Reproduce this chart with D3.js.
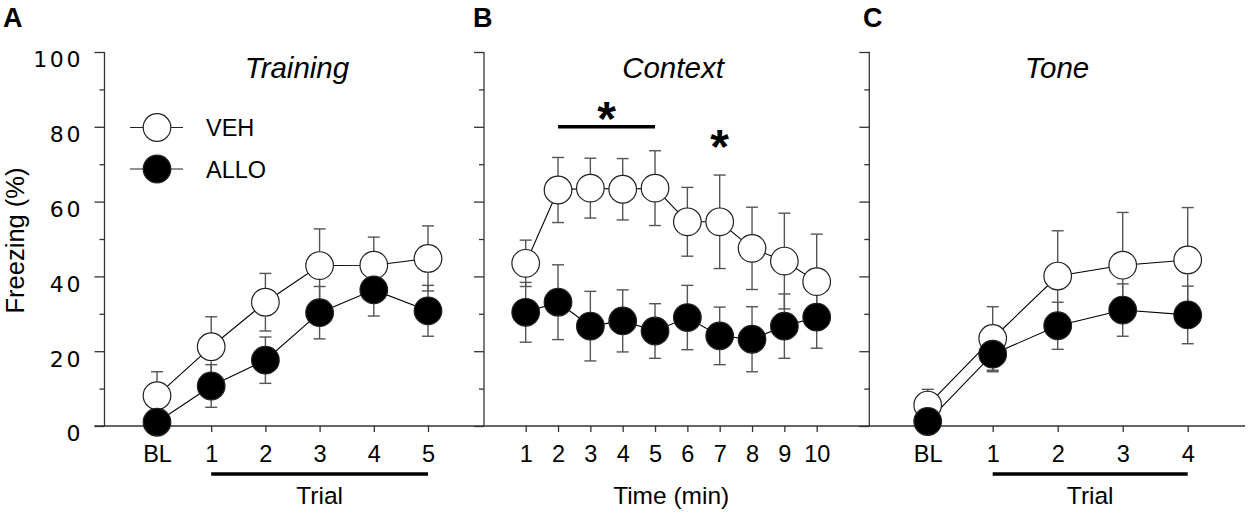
<!DOCTYPE html>
<html>
<head>
<meta charset="utf-8">
<script src="https://cdn.jsdelivr.net/npm/d3@7"></script>
<style>
  html, body { margin: 0; padding: 0; background: #fff; }
  svg { display: block; }
</style>
</head>
<body>
<svg id="chart" width="1250" height="516"></svg>
<script>
// ---------- DATA ----------
const trainingLabels = ["BL", "1", "2", "3", "4", "5"];
const trainingVeh    = [8.1, 21.2, 33.1, 42.9, 43.0, 44.8];
const trainingVehSem = [6.4, 8.0, 7.7, 9.8, 7.5, 8.7];
const trainingAllo   = [1.0, 10.7, 17.6, 30.3, 36.4, 30.8];
const trainingAlloSem= [1.0, 5.7, 6.2, 7.0, 7.0, 6.8];

const contextLabels  = ["1", "2", "3", "4", "5", "6", "7", "8", "9", "10"];
const contextVeh     = [43.5, 63.1, 63.6, 63.3, 63.6, 54.6, 54.6, 47.5, 44.1, 38.6];
const contextVehSem  = [6.2, 8.7, 8.0, 8.2, 10.0, 9.2, 12.5, 11.0, 12.8, 12.7];
const contextAllo    = [30.4, 33.1, 26.7, 28.1, 25.4, 29.0, 24.1, 23.2, 26.7, 29.1];
const contextAlloSem = [8.0, 10.0, 9.3, 8.3, 7.3, 8.6, 7.7, 8.7, 8.6, 8.3];

const toneLabels     = ["BL", "1", "2", "3", "4"];
const toneVeh        = [5.6, 23.4, 40.1, 43.0, 44.4];
const toneVehSem     = [4.2, 8.5, 12.1, 14.1, 14.0];
const toneAllo       = [1.2, 19.2, 26.8, 31.0, 29.7];
const toneAlloSem    = [1.0, 4.7, 6.3, 7.0, 7.7];

const yTickValues    = [0, 20, 40, 60, 80, 100];
const yMinorValues   = [10, 30, 50, 70, 90];
const seriesNames    = ["VEH", "ALLO"];

// ---------- LAYOUT ----------
const svg = d3.select("#chart");
const FONT = "'Liberation Sans', Arial, Helvetica, sans-serif";
const y = d3.scaleLinear().domain([0, 100]).range([426, 52]);
const AXIS_COLOR = "#333";
const ERR_COLOR = "#555";
const R = 13.8;

const panels = [
  { letter: "A", title: "Training", axisX: 104.5, range: [157, 428], labels: trainingLabels,
    veh: trainingVeh, vehSem: trainingVehSem, allo: trainingAllo, alloSem: trainingAlloSem,
    xTitle: "Trial", bar: true, yLabels: true, letterX: 3, titleX: 297 },
  { letter: "B", title: "Context", axisX: 484, range: [525.7, 816.7], labels: contextLabels,
    veh: contextVeh, vehSem: contextVehSem, allo: contextAllo, alloSem: contextAlloSem,
    xTitle: "Time (min)", bar: false, yLabels: false, letterX: 473, titleX: 673 },
  { letter: "C", title: "Tone", axisX: 869.3, range: [927.7, 1187.7], labels: toneLabels,
    veh: toneVeh, vehSem: toneVehSem, allo: toneAllo, alloSem: toneAlloSem,
    xTitle: "Trial", bar: true, yLabels: false, letterX: 863, titleX: 1057 }
];

// continuous baseline
svg.append("line")
  .attr("x1", 94.5).attr("x2", 1245)
  .attr("y1", y(0)).attr("y2", y(0))
  .attr("stroke", AXIS_COLOR).attr("stroke-width", 1.3);

panels.forEach(p => {
  const x = d3.scalePoint().domain(p.labels).range(p.range);
  const g = svg.append("g");

  // Y axis (major)
  const yMajor = g.append("g").attr("transform", `translate(${p.axisX},0)`)
    .call(d3.axisLeft(y).tickValues(yTickValues).tickSize(10)
      .tickFormat(p.yLabels ? d3.format("d") : ""));
  yMajor.select(".domain").attr("stroke", AXIS_COLOR).attr("stroke-width", 1.3)
    .attr("d", `M0,${y(100)}V${y(0)}`);
  yMajor.selectAll(".tick line").attr("stroke", AXIS_COLOR).attr("stroke-width", 1.3);
  yMajor.selectAll(".tick text")
    .attr("font-family", "'DejaVu Sans', sans-serif")
    .attr("font-size", 22)
    .attr("letter-spacing", "2.6px")
    .attr("fill", "#000")
    .attr("x", -21.5)
    .attr("dy", "0.68em");
  // Y axis (minor)
  const yMinor = g.append("g").attr("transform", `translate(${p.axisX},0)`)
    .call(d3.axisLeft(y).tickValues(yMinorValues).tickSize(5).tickFormat(""));
  yMinor.select(".domain").remove();
  yMinor.selectAll(".tick line").attr("stroke", AXIS_COLOR).attr("stroke-width", 1.3);

  // X axis ticks and labels
  const xa = g.append("g").attr("transform", `translate(0,${y(0)})`)
    .call(d3.axisBottom(x).tickSize(6).tickPadding(12));
  xa.select(".domain").remove();
  xa.selectAll(".tick line").attr("stroke", AXIS_COLOR).attr("stroke-width", 1.3);
  xa.selectAll(".tick text")
    .attr("font-family", FONT).attr("font-size", 23.5).attr("fill", "#000")
    .attr("dy", 0).attr("y", 461.5 - y(0));

  // Trial bar
  if (p.bar) {
    g.append("line")
      .attr("x1", x(p.labels[1])).attr("x2", x(p.labels[p.labels.length - 1]))
      .attr("y1", 474).attr("y2", 474)
      .attr("stroke", "#000").attr("stroke-width", 3.5);
  }
  // X title
  g.append("text")
    .attr("x", p.bar ? (x(p.labels[1]) + x(p.labels[p.labels.length - 1])) / 2 : (p.range[0] + p.range[1]) / 2)
    .attr("y", 503.5)
    .attr("text-anchor", "middle")
    .attr("font-family", FONT).attr("font-size", 24.5)
    .text(p.xTitle);

  // Title
  g.append("text")
    .attr("x", p.titleX)
    .attr("y", 78)
    .attr("text-anchor", "middle")
    .attr("font-family", FONT).attr("font-size", 29.5).attr("font-style", "italic")
    .text(p.title);

  // Panel letter
  g.append("text")
    .attr("x", p.letterX).attr("y", 26.5)
    .attr("font-family", FONT).attr("font-weight", "bold")
    .attr("font-size", 27)
    .text(p.letter);

  const seriesData = [
    { vals: p.veh, sem: p.vehSem, fill: "#fff" },
    { vals: p.allo, sem: p.alloSem, fill: "#000" }
  ];

  // Error bars
  seriesData.forEach(s => {
    const eb = g.append("g");
    s.vals.forEach((v, i) => {
      const cx = x(p.labels[i]);
      const top = y(v + s.sem[i]), bot = y(Math.max(0, v - s.sem[i]));
      eb.append("line").attr("x1", cx).attr("x2", cx).attr("y1", top).attr("y2", bot)
        .attr("stroke", ERR_COLOR).attr("stroke-width", 1.4);
      [top, bot].forEach(yy => {
        eb.append("line").attr("x1", cx - 6).attr("x2", cx + 6).attr("y1", yy).attr("y2", yy)
          .attr("stroke", ERR_COLOR).attr("stroke-width", 1.4);
      });
    });
  });

  // Lines
  const line = d3.line().x((d, i) => x(p.labels[i])).y(d => y(d));
  seriesData.forEach(s => {
    g.append("path").attr("d", line(s.vals))
      .attr("fill", "none").attr("stroke", "#000").attr("stroke-width", 1.1);
  });

  // Circles
  seriesData.forEach(s => {
    g.selectAll(null).data(s.vals).enter().append("circle")
      .attr("cx", (d, i) => x(p.labels[i]))
      .attr("cy", d => y(d))
      .attr("r", R)
      .attr("fill", s.fill)
      .attr("stroke", "#222").attr("stroke-width", 1.2);
  });

  // Significance marks in Context panel
  if (p.letter === "B") {
    g.append("line")
      .attr("x1", x("2")).attr("x2", x("5"))
      .attr("y1", y(80)).attr("y2", y(80))
      .attr("stroke", "#000").attr("stroke-width", 3.5);
    g.append("text")
      .attr("x", (x("3") + x("4")) / 2).attr("y", 110 + 25)
      .attr("text-anchor", "middle")
      .attr("font-family", FONT).attr("font-weight", "bold").attr("font-size", 48)
      .text("*");
    g.append("text")
      .attr("x", x("7")).attr("y", 138 + 25)
      .attr("text-anchor", "middle")
      .attr("font-family", FONT).attr("font-weight", "bold").attr("font-size", 48)
      .text("*");
  }
});

// Y axis title
svg.append("text")
  .attr("transform", `translate(24,${240.5}) rotate(-90)`)
  .attr("text-anchor", "middle")
  .attr("font-family", FONT).attr("font-size", 25.5)
  .text("Freezing (%)");

// Legend
const legendY = [127.5, 169];
const legendFill = ["#fff", "#000"];
seriesNames.forEach((name, i) => {
  const lg = svg.append("g");
  lg.append("line").attr("x1", 130).attr("x2", 183).attr("y1", legendY[i]).attr("y2", legendY[i])
    .attr("stroke", "#222").attr("stroke-width", 1.1);
  lg.append("circle").attr("cx", 157).attr("cy", legendY[i]).attr("r", R)
    .attr("fill", legendFill[i]).attr("stroke", "#222").attr("stroke-width", 1.2);
  lg.append("text").attr("x", 206).attr("y", legendY[i] + 8.5)
    .attr("font-family", FONT).attr("font-size", 23.5)
    .text(name);
});
</script>
</body>
</html>
